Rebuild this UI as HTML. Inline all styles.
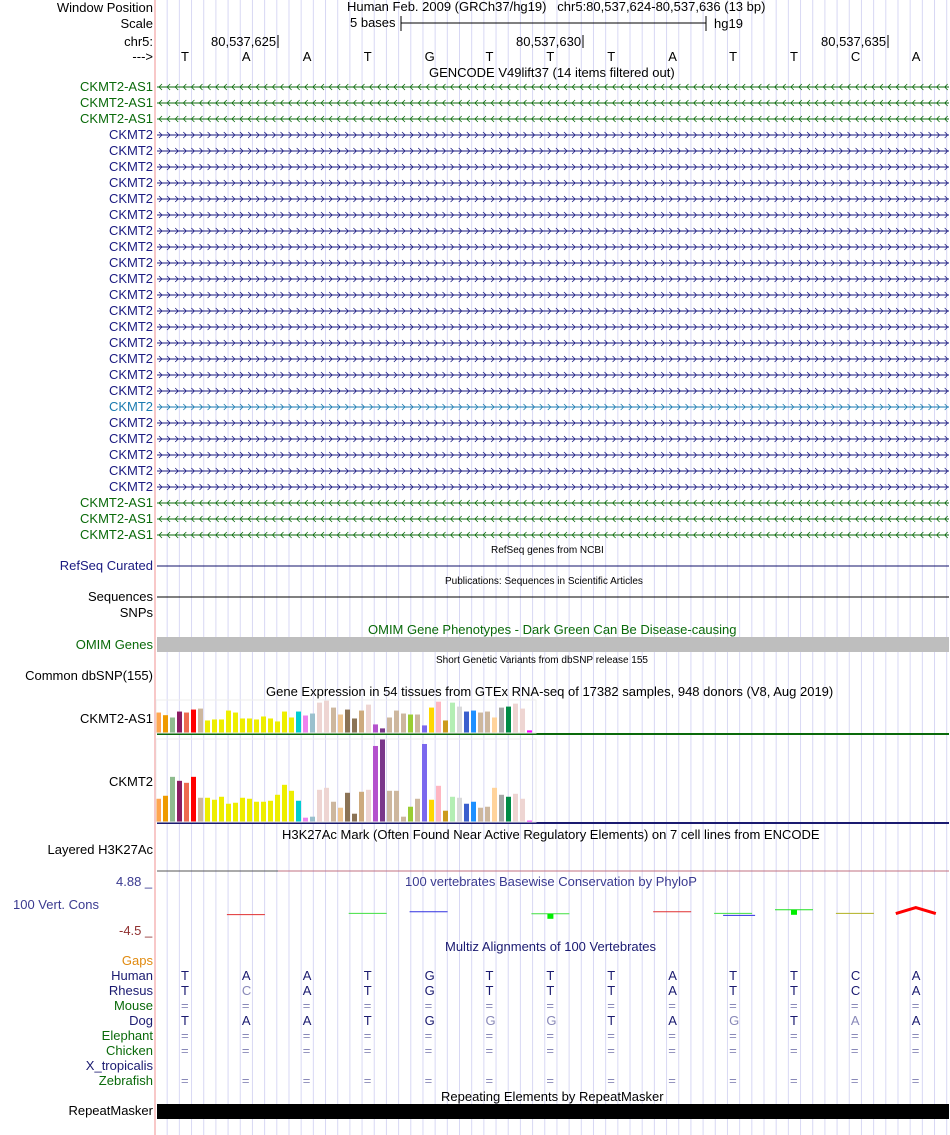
<!DOCTYPE html>
<html><head><meta charset="utf-8"><style>
body{margin:0;width:950px;height:1135px;background:#fff;overflow:hidden;position:relative;font-family:"Liberation Sans",sans-serif;font-size:13px}
.l{position:absolute;right:797px;white-space:nowrap;line-height:14px;text-align:right}
.c{position:absolute;white-space:nowrap;line-height:14px}
svg{position:absolute;left:0;top:0}
</style></head><body>
<svg id="s" width="950" height="1135"></svg>
<div id="lab"></div>
<script>
const NS="http://www.w3.org/2000/svg";
const svg=document.getElementById('s');
const lab=document.getElementById('lab');
function E(t,a,p){const e=document.createElementNS(NS,t);for(const k in a)e.setAttribute(k,a[k]);(p||svg).appendChild(e);return e;}
function L(txt,y,col,name,cls,x){const d=document.createElement('div');d.className=cls||'l';d.textContent=txt;d.style.top=(y-7)+'px';d.style.color=col||'#000';if(x!==undefined)d.style.left=x+'px';


lab.appendChild(d);return d;}
for(let k=1;k<=65;k++){const x=155+12.18*k;const g=E('line',{x1:x,x2:x,y1:0,y2:1135,stroke:'#d8d8f4','stroke-width':1});

}
const rl=E('line',{x1:155,x2:155,y1:0,y2:1135,stroke:'#f4a4a4','stroke-width':1.2});


L('Window Position',8,'#000','window-position-label');
L('Scale',24,'#000','scale-label');
L('chr5:',42,'#000','chr-label');
L('--->',57,'#000','strand-label');
L('Human Feb. 2009 (GRCh37/hg19)   chr5:80,537,624-80,537,636 (13 bp)',7,'#000','window-position','c',347).style.whiteSpace='pre';
L('5 bases',23,'#000','scale-bar-label','c',350);
L('hg19',24,'#000','assembly-label','c',714);
E('line',{x1:401,x2:706,y1:23,y2:23,stroke:'#000'});E('line',{x1:401,x2:401,y1:16,y2:31,stroke:'#000'});E('line',{x1:706,x2:706,y1:16,y2:31,stroke:'#000'});
const ticks=['80,537,625','80,537,630','80,537,635'];const tickX=[278,583,888];
ticks.forEach((t,i)=>{L(t,42,'#000','position-tick','c',tickX[i]-67);E('line',{x1:tickX[i],x2:tickX[i],y1:35,y2:48,stroke:'#000'});});
const bases=['T','A','A','T','G','T','T','T','A','T','T','C','A'];
const bx=i=>185+60.9*i;
bases.forEach((b,i)=>{L(b,57,'#000','base-'+i,'c',bx(i)-4);});
L('GENCODE V49lift37 (14 items filtered out)',73,'#000','gencode-title','c',429);
const genes=[];for(let i=0;i<3;i++)genes.push(['CKMT2-AS1',-1]);for(let i=0;i<23;i++)genes.push(['CKMT2',1]);for(let i=0;i<3;i++)genes.push(['CKMT2-AS1',-1]);
genes.forEach((g,i)=>{const y=87+16*i;const col=g[1]<0?'#0a6a0a':(i==20?'#1a7ab0':'#1a1a80');
L(g[0],y,col,'gene-label-'+g[0].toLowerCase());
E('line',{x1:157,x2:949,y1:y,y2:y,stroke:col,'stroke-width':1});
let d='';for(let x=159;x<947;x+=8.1){if(g[1]<0)d+=`M${x+3},${y-3}L${x},${y}L${x+3},${y+3}`;else d+=`M${x},${y-3}L${x+3},${y}L${x},${y+3}`;}
const p=E('path',{d:d,stroke:col,fill:'none','stroke-width':0.8});

});
L('RefSeq genes from NCBI',551,'#000','refseq-title','c',491).style.fontSize='10px';
L('RefSeq Curated',566,'#1a1a80','refseq-label');E('line',{x1:157,x2:949,y1:566,y2:566,stroke:'#10106a'});
L('Publications: Sequences in Scientific Articles',582,'#000','publications-title','c',445).style.fontSize='10px';
L('Sequences',597,'#000','sequences-label');E('line',{x1:157,x2:949,y1:597,y2:597,stroke:'#000'});
L('SNPs',613,'#000','snps-label');
L('OMIM Gene Phenotypes - Dark Green Can Be Disease-causing',630,'#0a6a0a','omim-title','c',368);
L('OMIM Genes',645,'#0a6a0a','omim-label');E('rect',{x:157,y:637,width:792,height:15,fill:'#bebebe'});
L('Short Genetic Variants from dbSNP release 155',661,'#000','dbsnp-title','c',436).style.fontSize='10px';
L('Common dbSNP(155)',676,'#000','dbsnp-label');
L('Gene Expression in 54 tissues from GTEx RNA-seq of 17382 samples, 948 donors (V8, Aug 2019)',692,'#000','gtex-title','c',266);
const tissueColors=['#FFA54F','#EE9A00','#8FBC8F','#8B1C62','#EE6A50','#FF0000','#CDB79E','#EEEE00','#EEEE00','#EEEE00','#EEEE00','#EEEE00','#EEEE00','#EEEE00','#EEEE00','#EEEE00','#EEEE00','#EEEE00','#EEEE00','#EEEE00','#00CED1','#EE82EE','#9AC0CD','#EED5D2','#EED5D2','#CDB79E','#EEC591','#8B7355','#8B7355','#CDAA7D','#EED5D2','#B452CD','#7A378B','#CDB79E','#CDB79E','#CDB79E','#9ACD32','#CDB79E','#7B68EE','#FFD700','#FFB6C1','#CD9B1D','#B4EEB4','#D9D9D9','#3A5FCD','#1E90FF','#CDB79E','#CDB79E','#FFD39B','#A6A6A6','#008B45','#EED5D2','#EED5D2','#FF00FF'];
const asValues=[62,54,47,65,62,71,74,38,41,41,68,62,44,44,41,50,44,35,65,47,65,53,59,92,98,77,56,71,44,68,86,26,14,47,68,59,56,56,23,77,95,38,92,80,65,68,62,65,47,77,80,89,74,8];
const ckValues=[70,79,136,124,118,136,73,73,67,76,55,58,73,70,61,61,64,82,112,94,64,13,16,97,103,61,43,88,25,91,97,229,250,94,94,16,46,70,235,67,109,34,76,73,55,61,43,46,103,82,76,85,70,4];
function gtex(vals,base,maxH,maxV,name){vals.forEach((v,i)=>{const h=v/maxV*maxH;const r=E('rect',{x:156+7*i,y:base-h,width:5,height:h,fill:tissueColors[i]});

});}
gtex(asValues,733,33,100,'ckmt2-as1');gtex(ckValues,822,83,250,'ckmt2');
E('rect',{x:157,y:733,width:792,height:2,fill:'#0a6a0a'});E('rect',{x:157,y:822,width:792,height:2,fill:'#1a1a70'});
E('rect',{x:156,y:700,width:380,height:33,fill:'none',stroke:'#eee'});E('rect',{x:156,y:739,width:380,height:83,fill:'none',stroke:'#eee'});
L('CKMT2-AS1',719,'#000','gtex-ckmt2-as1-label');L('CKMT2',782,'#000','gtex-ckmt2-label');
L('H3K27Ac Mark (Often Found Near Active Regulatory Elements) on 7 cell lines from ENCODE',835,'#000','h3k27ac-title','c',282);
L('Layered H3K27Ac',850,'#000','h3k27ac-label');
E('line',{x1:157,x2:278,y1:871,y2:871,stroke:'#555'});E('line',{x1:278,x2:949,y1:871,y2:871,stroke:'#c07080'});
L('100 vertebrates Basewise Conservation by PhyloP',882,'#3a3a90','phylop-title','c',405);
L('4.88 _',882,'#3a3a90','phylop-max','c',116);L('100 Vert. Cons',905,'#3a3a90','phylop-label','c',13);L('-4.5 _',931,'#903030','phylop-min','c',119);
const phyScore=[0,-0.4,0,-0.1,0.3,0,-0.2,0,0.3,-0.1,0.8,-0.1,0.6];
const phyColor=['none','#e03030','none','#40e040','#3030e0','none','#40e040','none','#e03030','#40e040','#20e020','#b0b020','#ff0000'];
const py=v=>913-v*4;
phyScore.forEach((v,i)=>{if(phyColor[i]=='none')return;const x=bx(i);const g=E('g',{});


if(i==12){E('path',{d:`M${x-20},${py(v)+3}L${x},${py(v)-3}L${x+20},${py(v)+3}`,stroke:'#f00','stroke-width':3,fill:'none'},g);return;}
E('line',{x1:x-19,x2:x+19,y1:py(v),y2:py(v),stroke:phyColor[i],'stroke-width':1},g);
if(i==9)E('line',{x1:x-10,x2:x+22,y1:py(v)+2,y2:py(v)+2,stroke:'#3030e0'},g);
if(i==6||i==10)E('rect',{x:x-3,y:py(v),width:6,height:5,fill:'#00ee00'},g);});
L('Multiz Alignments of 100 Vertebrates',947,'#1a1a70','multiz-title','c',445);
const species=['Gaps','Human','Rhesus','Mouse','Dog','Elephant','Chicken','X_tropicalis','Zebrafish'];
const spColor=['#e08a10','#1a1a70','#1a1a70','#0a6a0a','#1a1a70','#0a6a0a','#0a6a0a','#1a1a70','#0a6a0a'];
const rhesus=['T','C','A','T','G','T','T','T','A','T','T','C','A'];
const dog=['T','A','A','T','G','G','G','T','A','G','T','A','A'];
species.forEach((s,j)=>{const y=961+15*j;L(s,y,spColor[j],'species-'+s.toLowerCase());
bases.forEach((b,i)=>{let t='',c='#1a1a70';
if(s=='Human')t=b;else if(s=='Rhesus'){t=rhesus[i];if(t!=b)c='#8888b8';}else if(s=='Dog'){t=dog[i];if(t!=b)c='#8888b8';}
else if(['Mouse','Elephant','Chicken','Zebrafish'].includes(s)){t='=';c='#8888b8';}
if(t){L(t,y,c,'align-'+s.toLowerCase()+'-'+i,'c',bx(i)-4);}});});
L('Repeating Elements by RepeatMasker',1097,'#000','repeatmasker-title','c',441);
L('RepeatMasker',1111,'#000','repeatmasker-label');E('rect',{x:157,y:1104,width:792,height:15,fill:'#000'});
</script>
</body></html>
